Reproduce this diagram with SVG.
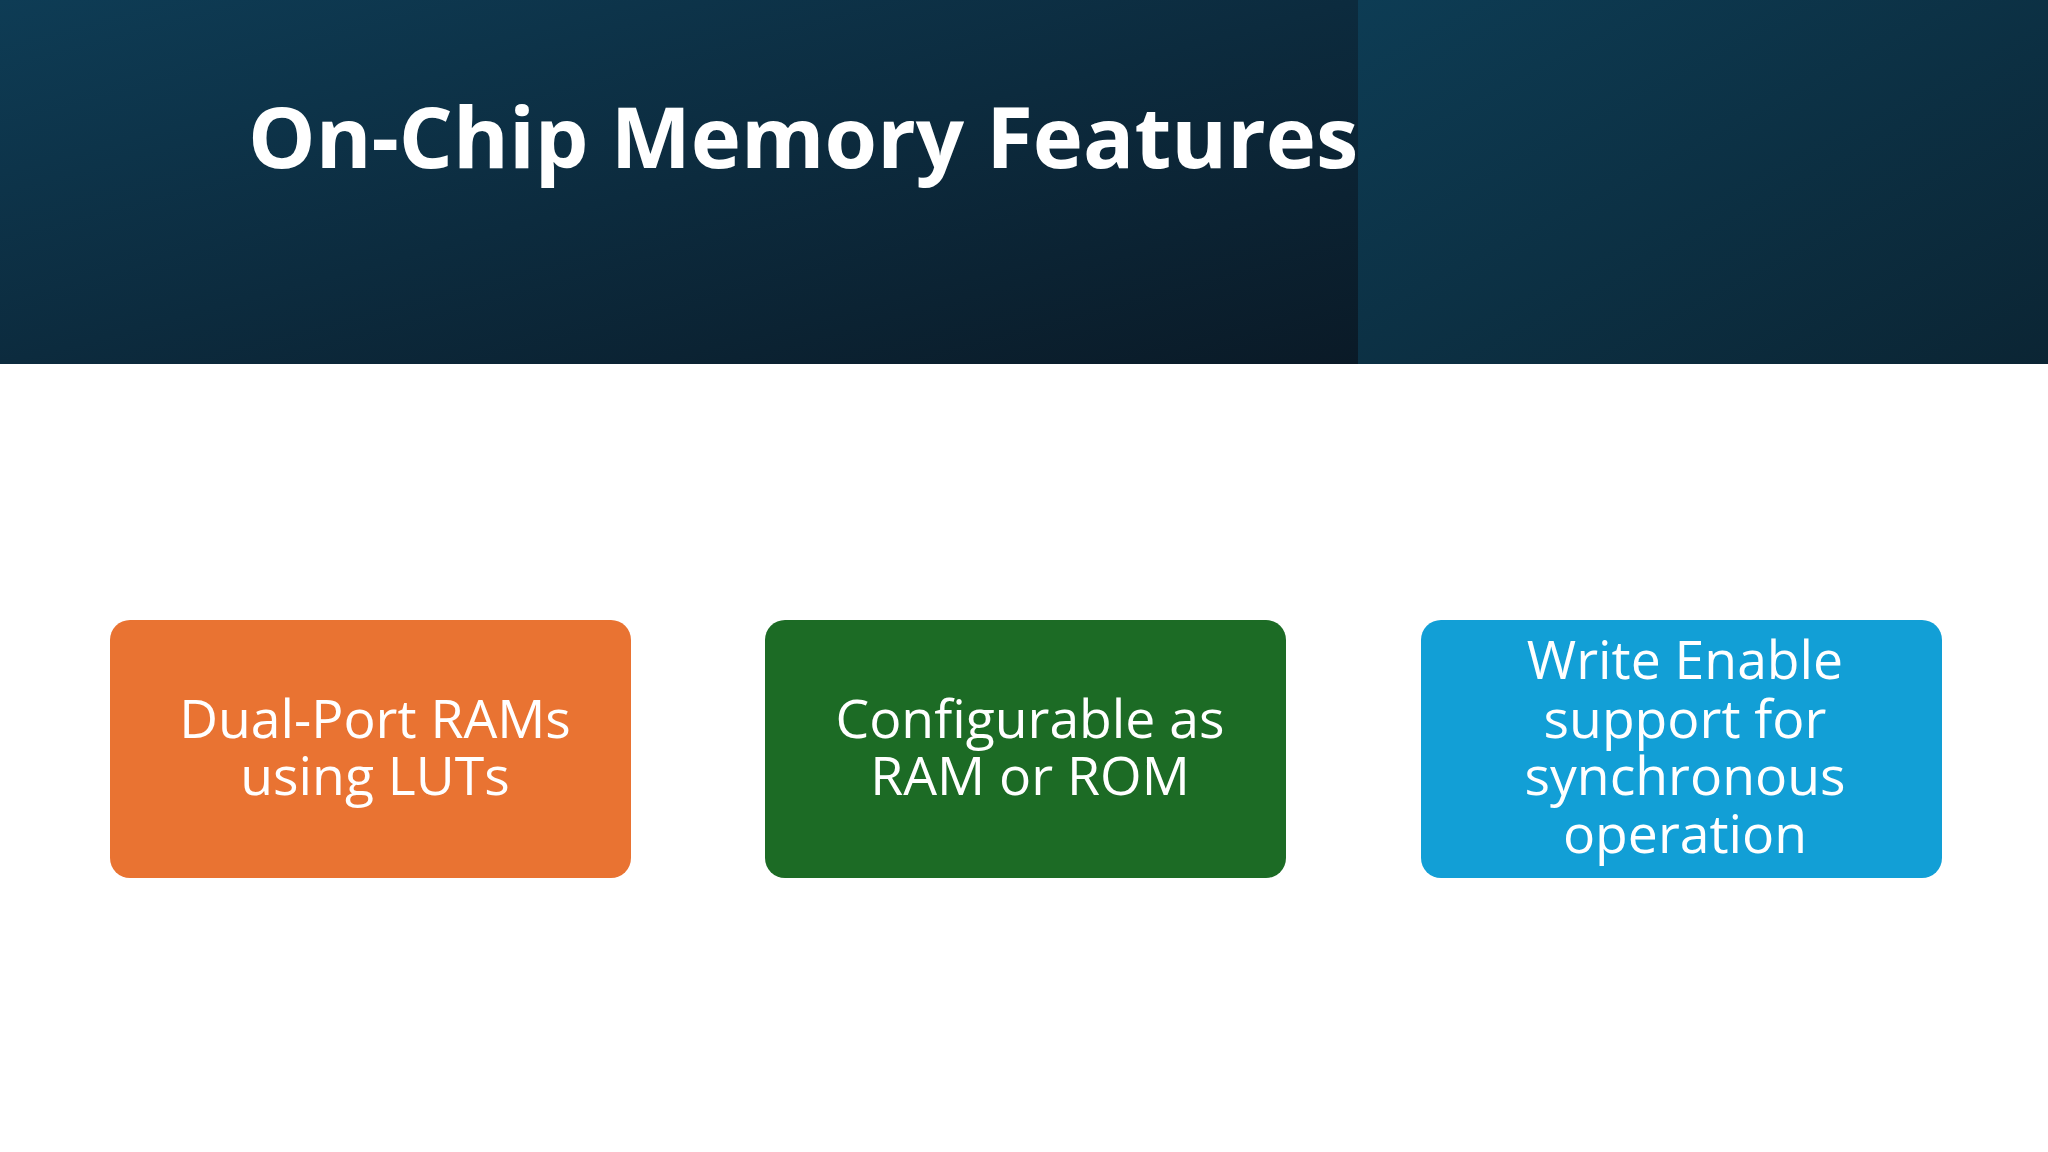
<svg xmlns="http://www.w3.org/2000/svg" width="2048" height="1152" viewBox="0 0 2048 1152">
<defs>
<linearGradient id="hl" x1="0" y1="0" x2="1" y2="1"><stop offset="0" stop-color="#0e3c55"/><stop offset="1" stop-color="#0a1a27"/></linearGradient>
<linearGradient id="hr" x1="0" y1="0" x2="1" y2="1"><stop offset="0" stop-color="#0d3c54"/><stop offset="1" stop-color="#0b2534"/></linearGradient>
<style>
.t{font-family:"Open Sans","Noto Sans",sans-serif;fill:#fff;text-anchor:middle;font-size:53.5px}
.h{font-family:"Open Sans","Noto Sans",sans-serif;fill:#fff;font-weight:bold;font-size:85px}
</style>
</defs>
<rect width="2048" height="1152" fill="#fff"/>
<g id="header">
<rect width="1358" height="364" fill="url(#hl)"/>
<rect x="1358" width="690" height="364" fill="url(#hr)"/>
<text class="h" x="248" y="168">On-Chip Memory Features</text>
</g>
<g id="connectors"/>
<g id="n1"><rect x="110" y="620" width="521" height="258" rx="20" fill="#e97332"/>
<text class="t" x="375" y="738">Dual-Port RAMs</text><text class="t" x="375" y="795">using LUTs</text></g>
<g id="n2"><rect x="765" y="620" width="521" height="258" rx="20" fill="#1c6b25"/>
<text class="t" x="1030" y="738">Configurable as</text><text class="t" x="1030" y="795">RAM or ROM</text></g>
<g id="n3"><rect x="1421" y="620" width="521" height="258" rx="20" fill="#129fd6"/>
<text class="t" x="1685" y="679">Write Enable</text><text class="t" x="1685" y="738">support for</text><text class="t" x="1685" y="795">synchronous</text><text class="t" x="1685" y="853">operation</text></g>
</svg>
